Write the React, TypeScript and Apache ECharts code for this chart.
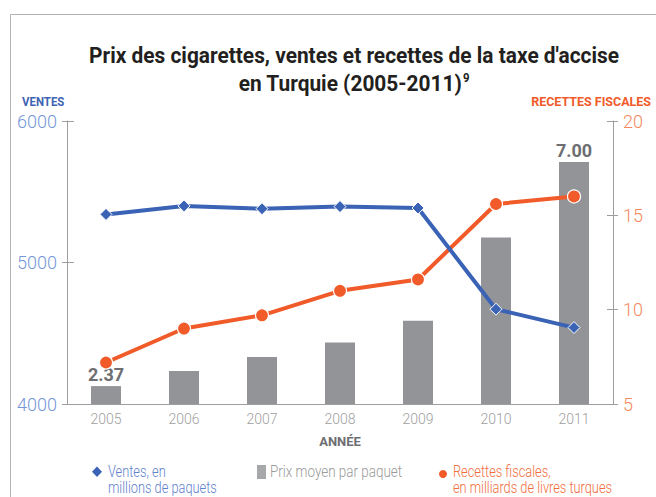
import React, { useEffect, useRef } from "react";
import * as echarts from "echarts";

const years = ["2005", "2006", "2007", "2008", "2009", "2010", "2011"];
const ventes = [5340, 5400, 5380, 5395, 5385, 4670, 4540];
const recettes = [7.2, 9.0, 9.7, 11.0, 11.6, 15.6, 16.0];
const prix = [2.37, 2.68, 2.97, 3.27, 3.72, 5.44, 7.0];
const ventesTicks = { min: 4000, max: 6000, interval: 1000 };
const recettesTicks = { min: 5, max: 20, interval: 5 };
const prixRange = { min: 2, max: 7.85 };

const FONT = "Roboto";
const AXIS = "#9d9d9d";
const BLUE = "#3a62b5";
const ORANGE = "#f15a29";
const BAR = "#939497";

export default function App() {
  const ref = useRef<HTMLDivElement>(null);
  useEffect(() => {
    if (!ref.current) return;
    const chart = echarts.init(ref.current, null, { renderer: "svg" });
    const last = prix.length - 1;
    const option: any = {
      animation: false,
      backgroundColor: "#ffffff",
      grid: { left: 67, right: 43, top: 121, bottom: 93, containLabel: false },
      xAxis: {
        type: "category",
        data: years,
        boundaryGap: true,
        axisLine: { lineStyle: { color: AXIS, width: 1 } },
        axisTick: { show: false },
        axisLabel: { color: "#a0a0a0", fontSize: 14, fontFamily: FONT, fontWeight: 300, margin: 8 },
        name: "ANNÉE",
        nameLocation: "middle",
        nameGap: 31,
        nameTextStyle: { color: "#6d6e71", fontSize: 13, fontWeight: "bold", fontFamily: FONT },
      },
      yAxis: [
        {
          type: "value",
          position: "left",
          ...ventesTicks,
          axisLine: { show: true, lineStyle: { color: AXIS } },
          axisTick: { show: true, length: 5, lineStyle: { color: AXIS } },
          axisLabel: {
            color: "#7597d8",
            fontSize: 18,
            fontFamily: FONT,
            fontWeight: 300,
            margin: 10,
            formatter: (v: number) => String(v),
          },
          splitLine: { show: false },
        },
        {
          type: "value",
          position: "left",
          ...ventesTicks,
          axisLine: { show: false },
          axisTick: { show: true, inside: true, length: 7, lineStyle: { color: AXIS } },
          axisLabel: { show: false },
          splitLine: { show: false },
        },
        {
          type: "value",
          position: "right",
          ...recettesTicks,
          axisLine: { show: true, lineStyle: { color: AXIS } },
          axisTick: { show: true, length: 5, lineStyle: { color: AXIS } },
          axisLabel: { color: "#f5875c", fontSize: 18, fontFamily: FONT, fontWeight: 300, margin: 10 },
          splitLine: { show: false },
        },
        {
          type: "value",
          position: "right",
          ...recettesTicks,
          axisLine: { show: false },
          axisTick: { show: true, inside: true, length: 6, lineStyle: { color: AXIS } },
          axisLabel: { show: false },
          splitLine: { show: false },
        },
        {
          type: "value",
          position: "left",
          ...prixRange,
          show: false,
          splitLine: { show: false },
        },
      ],
      series: [
        {
          name: "Prix moyen par paquet",
          type: "bar",
          yAxisIndex: 4,
          barWidth: 30,
          itemStyle: { color: BAR },
          data: prix.map((v, i) => ({
            value: v,
            label: { show: i === 0 || i === last },
          })),
          label: {
            position: "top",
            distance: 3,
            color: "#6d6e71",
            fontSize: 18,
            fontWeight: "bold",
            fontFamily: FONT,
            formatter: (p: any) => Number(p.value).toFixed(2),
          },
        },
        {
          name: "Recettes fiscales",
          type: "line",
          yAxisIndex: 2,
          data: recettes,
          symbol: "circle",
          symbolSize: 13,
          lineStyle: { color: ORANGE, width: 4 },
          itemStyle: { color: ORANGE, borderColor: "#ffffff", borderWidth: 1.2 },
          z: 3,
        },
        {
          name: "Ventes",
          type: "line",
          yAxisIndex: 0,
          data: ventes,
          symbol: "diamond",
          symbolSize: 12,
          lineStyle: { color: BLUE, width: 4 },
          itemStyle: { color: BLUE, borderColor: "#ffffff", borderWidth: 1 },
          z: 4,
        },
      ],
      graphic: [
        {
          type: "rect",
          shape: { x: 10.5, y: 14.5, width: 800, height: 700 },
          style: { fill: "none", stroke: "#b3b3b3", lineWidth: 1 },
          silent: true,
        },
        {
          type: "text",
          x: 354,
          y: 55,
          scaleX: 0.95,
          style: {
            text: "Prix des cigarettes, ventes et recettes de la taxe d'accise",
            fontSize: 22,
            fontWeight: "bold",
            fontFamily: FONT,
            fill: "#231f20",
            align: "center",
            verticalAlign: "middle",
          },
        },
        {
          type: "text",
          x: 354,
          y: 83,
          scaleX: 0.95,
          style: {
            text: "en Turquie (2005-2011){sup|9}",
            fontSize: 22,
            fontWeight: "bold",
            fontFamily: FONT,
            fill: "#231f20",
            align: "center",
            verticalAlign: "middle",
            rich: {
              sup: { fontSize: 12, fontWeight: "bold", fontFamily: FONT, fill: "#231f20", verticalAlign: "top", padding: [0, 0, 6, 1] },
            },
          },
        },
        {
          type: "text",
          x: 22,
          y: 101.5,
          scaleX: 0.88,
          style: { text: "VENTES", fontSize: 13, fontWeight: "bold", fontFamily: FONT, fill: "#3f64b4", align: "left", verticalAlign: "middle" },
        },
        {
          type: "text",
          x: 651,
          y: 101.5,
          scaleX: 0.96,
          style: { text: "RECETTES FISCALES", fontSize: 13, fontWeight: "bold", fontFamily: FONT, fill: ORANGE, align: "right", verticalAlign: "middle" },
        },
        // legend
        {
          type: "polygon",
          shape: { points: [[97, 466.5], [102, 471.7], [97, 476.9], [92, 471.7]] },
          style: { fill: BLUE },
        },
        {
          type: "text",
          x: 108,
          y: 472,
          scaleX: 0.8,
          style: { text: "Ventes, en", fontSize: 16, fontWeight: 300, fontFamily: FONT, fill: "#5f82cc", align: "left", verticalAlign: "middle" },
        },
        {
          type: "text",
          x: 108,
          y: 488.5,
          scaleX: 0.8,
          style: { text: "millions de paquets", fontSize: 16, fontWeight: 300, fontFamily: FONT, fill: "#5f82cc", align: "left", verticalAlign: "middle" },
        },
        {
          type: "rect",
          shape: { x: 257, y: 465, width: 9, height: 14 },
          style: { fill: "#a7a8aa" },
        },
        {
          type: "text",
          x: 270,
          y: 472,
          scaleX: 0.84,
          style: { text: "Prix moyen par paquet", fontSize: 16, fontWeight: 300, fontFamily: FONT, fill: "#9a9a9a", align: "left", verticalAlign: "middle" },
        },
        {
          type: "circle",
          shape: { cx: 443, cy: 474, r: 4 },
          style: { fill: ORANGE },
        },
        {
          type: "text",
          x: 453,
          y: 472,
          scaleX: 0.8,
          style: { text: "Recettes fiscales,", fontSize: 16, fontWeight: 300, fontFamily: FONT, fill: "#f26d3d", align: "left", verticalAlign: "middle" },
        },
        {
          type: "text",
          x: 453,
          y: 488.5,
          scaleX: 0.8,
          style: { text: "en milliards de livres turques", fontSize: 16, fontWeight: 300, fontFamily: FONT, fill: "#f26d3d", align: "left", verticalAlign: "middle" },
        },
      ],
    };
    chart.setOption(option);
    return () => chart.dispose();
  }, []);
  return <div ref={ref} style={{ width: 656, height: 497, position: "absolute", left: 0, top: 0 }} />;
}
